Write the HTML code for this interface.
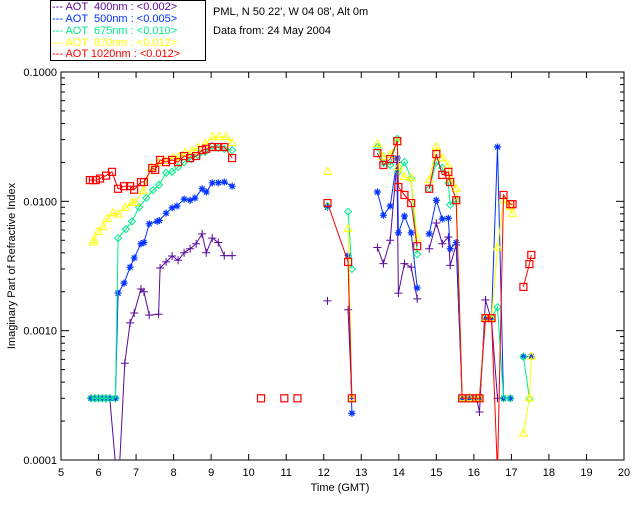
<!DOCTYPE html>
<html><head><meta charset="utf-8"><style>
html,body{margin:0;padding:0;background:#fff;}
svg{display:block;font-family:"Liberation Sans",sans-serif;}
</style></head><body>
<svg id="chart" width="640" height="512" viewBox="0 0 640 512">
<defs><clipPath id="plotclip"><rect x="61" y="72" width="563" height="388"/></clipPath></defs>
<rect x="50.5" y="0.5" width="155" height="60" fill="#fff" stroke="#000"/>
<g font-size="11">
<text x="52" y="10" fill="#5a0a9a" xml:space="preserve">--- AOT  400nm : &lt;0.002&gt;</text>
<text x="52" y="22" fill="#0033ff" xml:space="preserve">--- AOT  500nm : &lt;0.005&gt;</text>
<text x="52" y="34" fill="#00ee88" xml:space="preserve">--- AOT  675nm : &lt;0.010&gt;</text>
<text x="52" y="46" fill="#ffff00" xml:space="preserve">--- AOT  870nm : &lt;0.012&gt;</text>
<text x="52" y="57" fill="#ff0000" xml:space="preserve">--- AOT 1020nm : &lt;0.012&gt;</text>
</g>
<text x="213" y="15" font-size="11">PML, N 50 22', W 04 08', Alt 0m</text>
<text x="213" y="34" font-size="11">Data from: 24 May 2004</text>
<rect x="61" y="72" width="563" height="388" fill="none" stroke="#000"/>
<g id="axes"></g>
<g id="series" clip-path="url(#plotclip)"></g>
<text x="340" y="491" font-size="11" text-anchor="middle">Time (GMT)</text>
<text transform="translate(15,266) rotate(-90)" font-size="11" text-anchor="middle">Imaginary Part of Refractive Index</text>
</svg>
<script>
const xTicks=[5,6,7,8,9,10,11,12,13,14,15,16,17,18,19,20];
const yTicks=[0.0001,0.001,0.01,0.1];
const yTickLabels=["0.0001","0.0010","0.0100","0.1000"];
const t400=[5.8,5.9,6.0,6.1,6.2,6.3,6.47,6.55,6.7,6.84,6.95,7.13,7.21,7.35,7.6,7.64,7.8,7.96,8.12,8.28,8.44,8.6,8.76,8.87,9.03,9.19,9.35,9.56,null,12.1,null,12.65,12.75,null,13.43,13.59,13.77,13.95,13.99,14.15,14.33,14.49,null,14.81,15.0,15.16,15.32,15.37,15.53,15.69,15.88,16.07,16.15,16.31,16.47,16.63];
const v400=[0.0003,0.0003,0.0003,0.0003,0.0003,0.0003,0.00008,0.00008,0.00056,0.00115,0.00137,0.0021,0.002,0.00132,0.00134,0.00305,0.0034,0.00378,0.0035,0.004,0.0043,0.0047,0.0056,0.004,0.0052,0.0048,0.0038,0.0038,null,0.0017,null,0.00145,0.0003,null,0.0044,0.0033,0.005,0.02,0.00195,0.0033,0.0031,0.00176,null,0.0043,0.0068,0.0047,0.0053,0.0032,0.0046,0.0003,0.0003,0.0003,0.000235,0.00173,0.0012,0.0003];
const t500=[5.8,5.9,6.0,6.1,6.2,6.3,6.45,6.52,6.68,6.84,6.95,7.13,7.21,7.35,7.56,7.62,7.8,7.96,8.09,8.28,8.44,8.57,8.76,8.87,9.03,9.19,9.35,9.56,null,12.1,null,12.65,12.75,null,13.43,13.59,13.77,13.96,13.99,14.15,14.33,14.49,null,14.81,15.0,15.16,15.32,15.37,15.53,15.69,15.88,16.07,16.15,16.31,16.47,16.63,16.79,16.97,null,17.32,17.53];
const v500=[0.0003,0.0003,0.0003,0.0003,0.0003,0.0003,0.0003,0.00195,0.00233,0.0031,0.00365,0.0047,0.0048,0.0067,0.007,0.0071,0.0081,0.0089,0.0092,0.0104,0.0102,0.0106,0.0125,0.0118,0.0139,0.0139,0.0141,0.0131,null,0.009,null,0.0038,0.00023,null,0.0118,0.0078,0.0092,0.0216,0.0057,0.0077,0.0057,0.00214,null,0.0056,0.0102,0.0073,0.0074,0.0043,0.0048,0.0003,0.0003,0.0003,0.0003,0.00125,0.00125,0.0263,0.0003,0.0003,null,0.00063,0.00063];
const t675=[5.8,5.9,6.0,6.1,6.2,6.3,6.45,6.52,6.73,6.89,7.08,7.27,7.45,7.61,7.8,7.96,8.12,8.28,8.47,8.65,8.84,9.03,9.19,9.35,9.56,null,12.1,null,12.65,12.75,null,13.43,13.59,13.77,13.96,13.99,14.15,14.33,14.49,null,14.81,15.0,15.16,15.32,15.37,15.53,15.69,15.88,16.07,16.15,16.31,16.47,16.63,16.79,16.97,null,17.32,17.48];
const v675=[0.0003,0.0003,0.0003,0.0003,0.0003,0.0003,0.0003,0.0052,0.0061,0.007,0.009,0.0106,0.0122,0.0134,0.0166,0.0169,0.0184,0.0201,0.0212,0.0228,0.0241,0.0268,0.0259,0.0254,0.0249,null,0.0092,null,0.0083,0.003,null,0.0263,0.0198,0.0191,0.0304,0.0169,0.0201,0.0151,0.0039,null,0.0125,0.0201,0.0181,0.0139,0.0094,0.0102,0.0003,0.0003,0.0003,0.0003,0.00125,0.00125,0.00152,0.0003,0.0003,null,0.00063,0.0003];
const t870=[5.85,5.88,5.99,6.12,6.23,6.39,6.52,6.71,6.89,6.97,7.19,7.4,7.61,7.8,7.99,8.15,8.31,8.49,8.65,8.84,9.05,9.21,9.4,9.56,null,12.1,null,12.65,12.75,null,13.43,13.59,13.77,13.96,13.99,14.15,14.33,14.49,null,14.81,15.0,15.16,15.32,15.37,15.53,15.69,15.88,16.07,16.15,16.31,16.47,16.63,16.79,16.97,17.03,null,17.32,17.48,17.53];
const v870=[0.0048,0.005,0.0058,0.0063,0.0073,0.0081,0.0079,0.0089,0.0097,0.0097,0.012,0.0181,0.0198,0.0205,0.0216,0.022,0.0236,0.0245,0.0259,0.0277,0.0314,0.0314,0.0314,0.0282,null,0.0169,null,0.0061,0.0003,null,0.0277,0.022,0.0228,0.0288,0.0184,0.0154,0.0151,0.0052,null,0.0146,0.0263,0.0216,0.0188,0.0149,0.0125,0.0003,0.0003,0.0003,0.0003,0.00125,0.00125,0.0044,0.0102,0.009,0.008,null,0.00016,0.0003,0.00063];
const t1020=[5.77,5.85,5.93,6.04,6.2,6.36,6.52,6.68,6.84,6.95,7.13,7.21,7.43,7.51,7.64,7.8,7.96,8.12,8.28,8.44,8.6,8.76,8.87,9.03,9.19,9.35,9.56,null,10.33,null,10.95,null,11.3,null,12.1,12.65,12.75,null,13.43,13.59,13.77,13.96,13.99,14.15,14.33,14.49,null,14.81,15.0,15.16,15.32,15.37,15.53,15.69,15.88,16.07,16.15,16.31,16.47,16.63,16.79,16.97,17.03,null,17.32,17.48,17.53];
const v1020=[0.0146,0.0146,0.0146,0.015,0.0158,0.0169,0.0125,0.0131,0.0131,0.0123,0.0141,0.0141,0.0181,0.0175,0.0209,0.0201,0.0209,0.0201,0.0224,0.0216,0.0224,0.0249,0.0255,0.0263,0.0263,0.0263,0.0216,null,0.0003,null,0.0003,null,0.0003,null,0.0097,0.0034,0.0003,null,0.0236,0.0191,0.0212,0.0292,0.0129,0.0112,0.0097,0.0045,null,0.0125,0.0232,0.016,0.0169,0.0141,0.0102,0.0003,0.0003,0.0003,0.0003,0.00125,0.00125,0.00008,0.0112,0.0095,0.0095,null,0.00218,0.00327,0.00385];

const NS='http://www.w3.org/2000/svg';
const X0=61,X1=624,Y0=460,Y1=72;
function xs(t){return X0+(t-5)/15*(X1-X0);}
function ys(v){return Y0-(Math.log10(v)+4)/3*(Y0-Y1);}
function mk(tag,attrs,parent){const e=document.createElementNS(NS,tag);for(const k in attrs)e.setAttribute(k,attrs[k]);parent.appendChild(e);return e;}
const axes=document.getElementById('axes');
xTicks.forEach((t,i)=>{
  const x=xs(t);
  const tk=mk('line',{x1:x,x2:x,y1:Y0,y2:Y0-6,stroke:'#000'},axes);
  
  
  const tk2=mk('line',{x1:x,x2:x,y1:Y1,y2:Y1+6,stroke:'#000'},axes);
  
  
  const lb=mk('text',{x:x,y:476,'font-size':'11','text-anchor':'middle'},axes);
  lb.textContent=String(t);
  
  
});
yTicks.forEach((v,i)=>{
  const y=ys(v);
  const lb=mk('text',{x:57,y:y+4,'font-size':'11','text-anchor':'end'},axes);
  lb.textContent=yTickLabels[i];
  
  
  [X0,X1].forEach((xe,j)=>{
    const tk=mk('line',{x1:xe,x2:j?xe-8:xe+8,y1:y,y2:y,stroke:'#000'},axes);
    
    
  });
  if(i<yTicks.length-1){for(let m=2;m<10;m++){const ym=ys(v*m);
    [X0,X1].forEach((xe,j)=>{
      const mt=mk('line',{x1:xe,x2:j?xe-4:xe+4,y1:ym,y2:ym,stroke:'#000'},axes);
      
      
    });}}
});
const seriesG=document.getElementById('series');
const defs=[
 {name:'aot-400',t:t400,v:v400,c:'#5a0a9a',m:'plus'},
 {name:'aot-500',t:t500,v:v500,c:'#0033ff',m:'star'},
 {name:'aot-675',t:t675,v:v675,c:'#00ee88',m:'diamond'},
 {name:'aot-870',t:t870,v:v870,c:'#ffff00',m:'tri'},
 {name:'aot-1020',t:t1020,v:v1020,c:'#ff0000',m:'square'}];
defs.forEach(s=>{
  const g=mk('g',{},seriesG);
  
  
  let d='',pen=false;
  s.t.forEach((t,i)=>{const v=s.v[i];
    if(t===null||v===null){pen=false;return;}
    d+=(pen?'L':'M')+xs(t).toFixed(1)+' '+ys(v).toFixed(1);pen=true;});
  const p=mk('path',{d:d,fill:'none',stroke:s.c,'stroke-width':'1'},g);
  
  
  s.t.forEach((t,i)=>{const v=s.v[i];if(t===null||v===null)return;
    const x=xs(t),y=ys(v);let e;
    if(s.m==='plus')e=mk('path',{d:`M${x-4} ${y}H${x+4}M${x} ${y-4}V${y+4}`,stroke:s.c,fill:'none'},g);
    else if(s.m==='star')e=mk('path',{d:`M${x-3.5} ${y}H${x+3.5}M${x} ${y-3.5}V${y+3.5}M${x-2.5} ${y-2.5}L${x+2.5} ${y+2.5}M${x-2.5} ${y+2.5}L${x+2.5} ${y-2.5}`,stroke:s.c,'stroke-width':'1.2',fill:'none'},g);
    else if(s.m==='diamond')e=mk('path',{d:`M${x} ${y-3.5}L${x+3.5} ${y}L${x} ${y+3.5}L${x-3.5} ${y}Z`,stroke:s.c,fill:'none'},g);
    else if(s.m==='tri')e=mk('path',{d:`M${x} ${y-4.5}L${x+4} ${y+2.5}L${x-4} ${y+2.5}Z`,stroke:s.c,fill:'none'},g);
    else e=mk('rect',{x:x-3.5,y:y-3.5,width:7,height:7,stroke:s.c,'stroke-width':'1.2',fill:'none'},g);
    
    
  });
});
</script>
</body></html>
